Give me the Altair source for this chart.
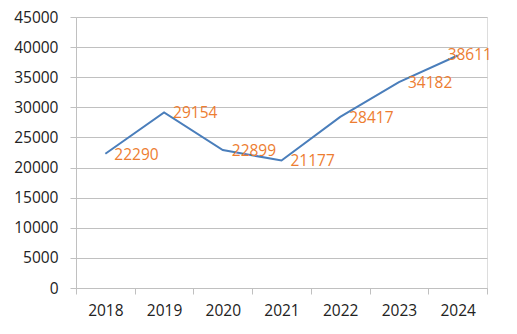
import altair as alt
import pandas as pd

years = ["2018", "2019", "2020", "2021", "2022", "2023", "2024"]
values = [22290, 29154, 22899, 21177, 28417, 34182, 38611]

df = pd.DataFrame({"year": years, "value": values})

FONT = "Open Sans"
GRID = "#C0C0C0"

x = alt.X("year:N", sort=years, title=None,
          scale=alt.Scale(paddingInner=0, paddingOuter=0),
          axis=alt.Axis(labelAngle=0, tickBand="extent", grid=False,
                        domainColor=GRID, tickColor=GRID, tickSize=6,
                        labelFont=FONT, labelFontSize=15.5, labelColor="#222222",
                        labelPadding=9))
y = alt.Y("value:Q", title=None,
          scale=alt.Scale(domain=[0, 45000], nice=False),
          axis=alt.Axis(values=list(range(0, 45001, 5000)), format="d", grid=True,
                        gridColor=GRID, gridWidth=1.2, domainColor=GRID,
                        tickColor=GRID, tickSize=6,
                        labelFont=FONT, labelFontSize=15.5, labelColor="#222222",
                        labelPadding=12))

base = alt.Chart(df)

line = base.mark_line(color="#4A7EBB", strokeWidth=2).encode(x=x, y=y)

labels = base.transform_filter(alt.datum.year != "2024").mark_text(
    align="left", baseline="middle", dx=9, dy=1, color="#ED7D31",
    font=FONT, fontSize=15.5).encode(x=x, y=y, text=alt.Text("value:Q", format="d"))

last_label = base.transform_filter(alt.datum.year == "2024").mark_text(
    align="left", baseline="middle", dx=-10, dy=0, color="#ED7D31",
    font=FONT, fontSize=15.5).encode(x=x, y=y, text=alt.Text("value:Q", format="d"))

chart = (line + labels + last_label).properties(
    width=411, height=271,
    autosize=alt.AutoSizeParams(type="none"),
    padding={"left": 76, "top": 17, "right": 30, "bottom": 46},
).configure_view(stroke="transparent", strokeWidth=0).configure(background="white")

chart.save("out.html", embed_options={"renderer": "svg", "actions": False})
